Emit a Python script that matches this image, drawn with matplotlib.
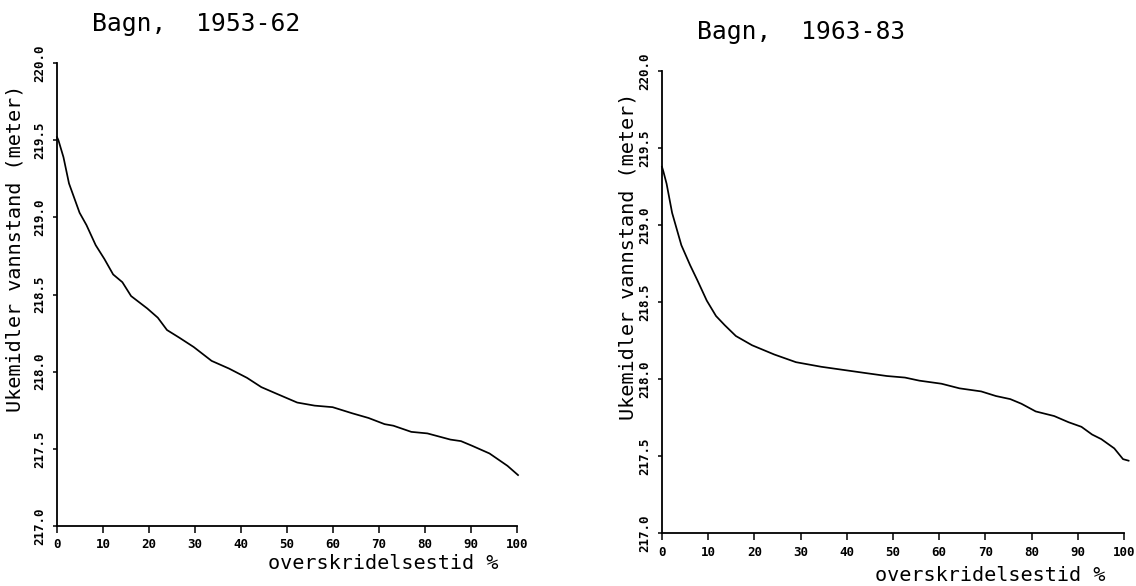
import matplotlib
matplotlib.use("Agg")
import matplotlib.pyplot as plt

# duration curves
pct_1953 = [0.0, 0.3, 1.4, 2.6, 4.9, 6.4, 8.4, 10.3, 12.2, 14.2, 16.1, 19.6, 21.9,
            23.9, 26.6, 29.7, 33.6, 37.4, 41.3, 44.4, 47.5, 52.2, 56.0, 59.9, 64.2,
            67.7, 71.2, 73.1, 77.0, 80.5, 85.5, 87.8, 90.2, 94.0, 97.9, 100.2]
lvl_1953 = [219.52, 219.50, 219.39, 219.22, 219.03, 218.95, 218.82, 218.73, 218.63,
            218.58, 218.49, 218.41, 218.35, 218.27, 218.22, 218.16, 218.07, 218.02,
            217.96, 217.90, 217.86, 217.80, 217.78, 217.77, 217.73, 217.70, 217.66,
            217.65, 217.61, 217.60, 217.56, 217.55, 217.52, 217.47, 217.39, 217.33]

pct_1963 = [0.0, 0.3, 1.0, 2.2, 4.2, 6.1, 7.7, 9.7, 11.7, 13.6, 16.0, 19.5, 24.3,
            29.0, 34.5, 39.2, 43.9, 48.7, 52.6, 55.7, 60.5, 64.4, 69.1, 72.3, 75.4,
            77.8, 80.9, 84.9, 88.0, 90.8, 93.1, 95.1, 97.9, 99.8, 101.0]
lvl_1963 = [219.38, 219.35, 219.27, 219.08, 218.87, 218.74, 218.64, 218.51, 218.41,
            218.35, 218.28, 218.22, 218.16, 218.11, 218.08, 218.06, 218.04, 218.02,
            218.01, 217.99, 217.97, 217.94, 217.92, 217.89, 217.87, 217.84, 217.79,
            217.76, 217.72, 217.69, 217.64, 217.61, 217.55, 217.48, 217.47]

x_ticks = list(range(0, 101, 10))
y_ticks = [217.0, 217.5, 218.0, 218.5, 219.0, 219.5, 220.0]

MONO = "DejaVu Sans Mono"

fig = plt.figure(figsize=(11.36, 5.86), dpi=100)
ax_l = fig.add_axes([0.0502, 0.1024, 0.405, 0.790])
ax_r = fig.add_axes([0.5827, 0.0904, 0.4067, 0.788])

panels = [
    (ax_l, pct_1953, lvl_1953, "Bagn,  1953-62", -0.091, -0.080),
    (ax_r, pct_1963, lvl_1963, "Bagn,  1963-83", -0.074, -0.093),
]

for ax, x, y, title, ylab_x, xlab_y in panels:
    line, = ax.plot(x, y, color="black", linewidth=1.25)
    line.set_clip_on(False)

    ax.set_xlim(0, 100)
    ax.set_ylim(217.0, 220.0)
    ax.set_xticks(x_ticks)
    ax.set_xticklabels([str(t) for t in x_ticks])
    ax.set_yticks(y_ticks)
    ax.set_yticklabels([f"{t:.1f}" for t in y_ticks])

    for side in ("top", "right"):
        ax.spines[side].set_visible(False)
    for side in ("left", "bottom"):
        ax.spines[side].set_linewidth(1.3)

    ax.tick_params(axis="x", direction="out", length=5, width=1.1, pad=4,
                   labelsize=9)
    ax.tick_params(axis="y", direction="out", length=3, width=1.1, pad=5,
                   labelsize=9, labelrotation=90)
    for lab in ax.get_xticklabels() + ax.get_yticklabels():
        lab.set_fontweight("bold")
        lab.set_family(MONO)
    for lab in ax.get_yticklabels():
        lab.set_verticalalignment("center")

    ax.text(0.302, 1.085, title, transform=ax.transAxes, ha="center", va="center",
            fontsize=17.7, family=MONO)
    ax.text(ylab_x, 0.60, "Ukemidler vannstand (meter)", transform=ax.transAxes,
            rotation=90, ha="center", va="center", fontsize=14.5, family=MONO)
    ax.text(0.71, xlab_y, "overskridelsestid %", transform=ax.transAxes,
            ha="center", va="center", fontsize=14.5, family=MONO)

fig.savefig("out.png", dpi=100, facecolor="white")
